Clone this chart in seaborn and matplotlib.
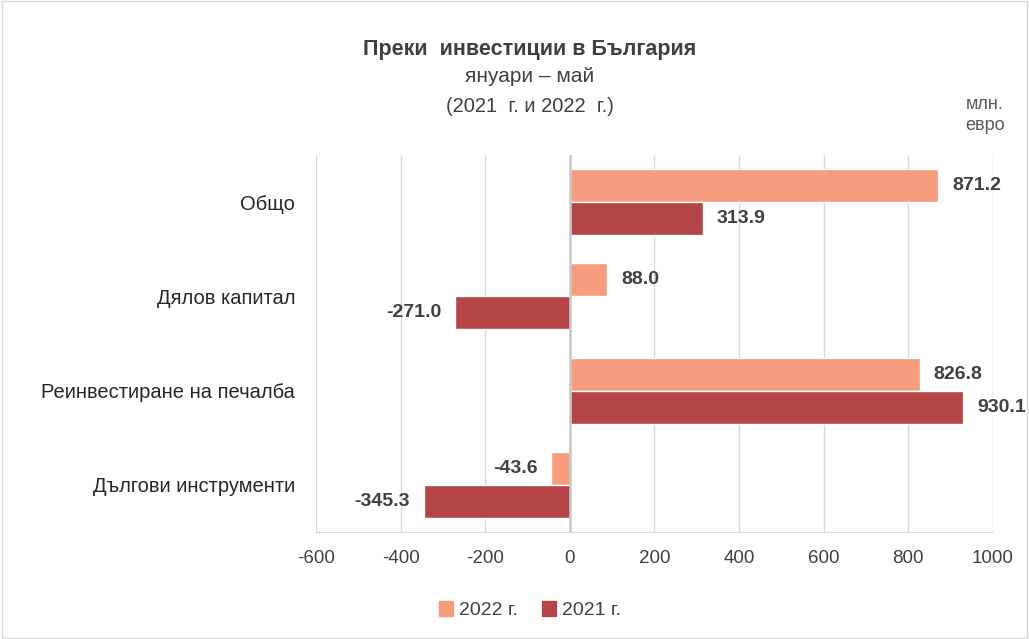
import matplotlib
matplotlib.use('Agg')
import matplotlib.pyplot as plt
import matplotlib.patches as mpatches
import numpy as np
import pandas as pd
import seaborn as sns

categories = ['Общо', 'Дялов капитал', 'Реинвестиране на печалба', 'Дългови инструменти']
values_2022 = [871.2, 88.0, 826.8, -43.6]
values_2021 = [313.9, -271.0, 930.1, -345.3]
years = ['2022 г.', '2021 г.']
colors = ['#F79C7F', '#B44446']
xticks = [-600, -400, -200, 0, 200, 400, 600, 800, 1000]

df = pd.DataFrame({
    'cat': categories * 2,
    'val': values_2022 + values_2021,
    'year': [years[0]] * 4 + [years[1]] * 4,
})

sns.set_style('white')
plt.rcParams['font.family'] = ['Liberation Sans Narrow', 'Liberation Sans', 'DejaVu Sans']

fig = plt.figure(figsize=(10.29, 6.39), dpi=100)
ax = fig.add_axes([0.307, 0.1675, 0.658, 0.59])

sns.barplot(data=df, x='val', y='cat', hue='year', hue_order=years,
            palette=colors, orient='h', width=0.7, saturation=1,
            ax=ax, legend=False)

for cont in ax.containers:
    ax.bar_label(cont, fmt='%.1f', padding=10, fontsize=14,
                 fontweight='bold', color='#404040')

ax.set_xlim(-600, 1000)
ax.set_xticks(xticks)
ax.set_xticklabels([str(t) for t in xticks], fontsize=13.5, color='#404040')
ax.tick_params(axis='x', length=5, color='#d9d9d9', pad=8)
ax.tick_params(axis='y', length=0, pad=15, labelsize=14.5, labelcolor='#262626')
ax.grid(axis='x', color='#d9d9d9', lw=1)
ax.set_axisbelow(True)
ax.axvline(0, color='#c8c8c8', lw=1.8, zorder=1)
for s in ['top', 'right', 'left']:
    ax.spines[s].set_visible(False)
ax.spines['bottom'].set_color('#d9d9d9')
ax.set_xlabel('')
ax.set_ylabel('')

fig.text(0.515, 0.922, 'Преки  инвестиции в България', ha='center', va='center',
         fontsize=15.5, fontweight='bold', color='#404040')
fig.text(0.515, 0.880, 'януари – май', ha='center', va='center',
         fontsize=15, color='#404040')
fig.text(0.515, 0.834, '(2021  г. и 2022  г.)', ha='center', va='center',
         fontsize=14.5, color='#404040')
fig.text(0.957, 0.82, 'млн.\nевро', ha='center', va='center',
         fontsize=13, color='#595959', linespacing=1.35)

handles = [mpatches.Patch(color=c, label=y) for c, y in zip(colors, years)]
fig.legend(handles=handles, loc='center', bbox_to_anchor=(0.515, 0.045), ncol=2,
           frameon=False, fontsize=14, handlelength=0.75, handleheight=0.75,
           handletextpad=0.3, columnspacing=1.2, labelcolor='#404040')

fig.patches.append(mpatches.Rectangle((0.002, 0.002), 0.996, 0.996, transform=fig.transFigure,
                                      fill=False, edgecolor='#d9d9d9', lw=1))

fig.savefig('out.png', dpi=100)
